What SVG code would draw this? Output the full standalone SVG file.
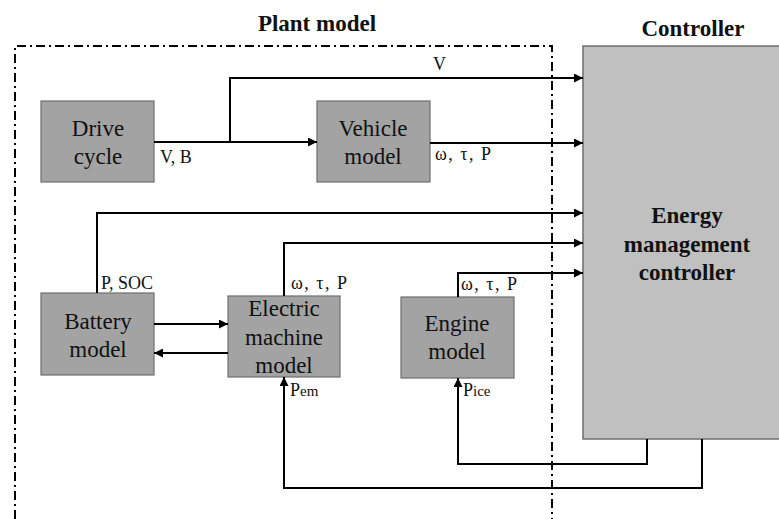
<svg xmlns="http://www.w3.org/2000/svg" width="779" height="519" viewBox="0 0 779 519">
<defs>
<style>
.box{fill:#a3a3a3;stroke:#6e6e6e;stroke-width:1.2}
.ctrl{fill:#c0c0c0;stroke:#6e6e6e;stroke-width:1.5}
.t{font-family:"Liberation Serif","Times New Roman",serif;font-size:23px;fill:#111;text-anchor:middle}
.lbl{font-family:"Liberation Serif","Times New Roman",serif;font-size:18px;fill:#111}
.b{font-family:"Liberation Serif","Times New Roman",serif;font-size:23px;font-weight:bold;fill:#111;text-anchor:middle}
.w{stroke:#000;stroke-width:2;fill:none}
.a{stroke:#000;stroke-width:2;fill:none;marker-end:url(#ah)}
.frame{stroke:#000;stroke-width:2;fill:none;stroke-dasharray:9 4 2 4}
</style>
<marker id="ah" viewBox="0 0 10 10" refX="10" refY="5" markerWidth="4.5" markerHeight="4.5" orient="auto" markerUnits="strokeWidth">
<path d="M0,0 L10,5 L0,10 z" fill="#000"/>
</marker>
</defs>
<rect width="779" height="519" fill="#fff"/>
<g id="plant-frame">
<path class="frame" d="M15,519 L15,46 L552,46 L552,519"/>
<text class="b" x="317" y="31">Plant model</text>
</g>
<g id="controller">
<path class="ctrl" d="M781,46 L583,46 L583,439 L781,439"/>
<text class="b" x="693" y="36">Controller</text>
<text class="b" x="687" y="223">Energy</text>
<text class="b" x="687" y="252">management</text>
<text class="b" x="687" y="280">controller</text>
</g>
<g id="drive-cycle">
<rect class="box" x="41" y="101" width="113" height="81"/>
<text class="t" x="98" y="136">Drive</text>
<text class="t" x="98" y="164">cycle</text>
</g>
<g id="vehicle-model">
<rect class="box" x="317" y="101" width="113" height="81"/>
<text class="t" x="373" y="136">Vehicle</text>
<text class="t" x="373" y="164">model</text>
</g>
<g id="battery-model">
<rect class="box" x="41" y="293" width="113" height="82"/>
<text class="t" x="98" y="329">Battery</text>
<text class="t" x="98" y="357">model</text>
</g>
<g id="electric-machine-model">
<rect class="box" x="228" y="296" width="112" height="81"/>
<text class="t" x="284" y="316">Electric</text>
<text class="t" x="284" y="345">machine</text>
<text class="t" x="284" y="373">model</text>
</g>
<g id="engine-model">
<rect class="box" x="401" y="297" width="113" height="81"/>
<text class="t" x="457" y="331">Engine</text>
<text class="t" x="457" y="359">model</text>
</g>
<g id="connectors">
<path class="w" d="M154,142 L230,142"/>
<path class="a" d="M230,142 L317,142"/>
<path class="a" d="M230,142 L230,78 L583,78"/>
<path class="a" d="M430,143 L583,143"/>
<path class="a" d="M97,293 L97,213 L583,213"/>
<path class="a" d="M284,296 L284,243 L583,243"/>
<path class="a" d="M458,297 L458,273 L583,273"/>
<path class="a" d="M154,324 L228,324"/>
<path class="a" d="M228,353 L154,353"/>
<path class="a" d="M647,439 L647,464 L458,464 L458,378"/>
<path class="a" d="M702,439 L702,488 L284,488 L284,377"/>
</g>
<g id="labels">
<text class="lbl" x="433" y="70">V</text>
<text class="lbl" x="160" y="163">V, B</text>
<text class="lbl" x="435" y="160" textLength="56" lengthAdjust="spacing">ω, τ, P</text>
<text class="lbl" x="101" y="289">P, SOC</text>
<text class="lbl" x="291" y="289" textLength="56" lengthAdjust="spacing">ω, τ, P</text>
<text class="lbl" x="461" y="290" textLength="56" lengthAdjust="spacing">ω, τ, P</text>
<text class="lbl" x="290" y="396" font-size="20">P<tspan font-size="15">em</tspan></text>
<text class="lbl" x="463" y="396" font-size="20">P<tspan font-size="15">ice</tspan></text>
</g>
</svg>
